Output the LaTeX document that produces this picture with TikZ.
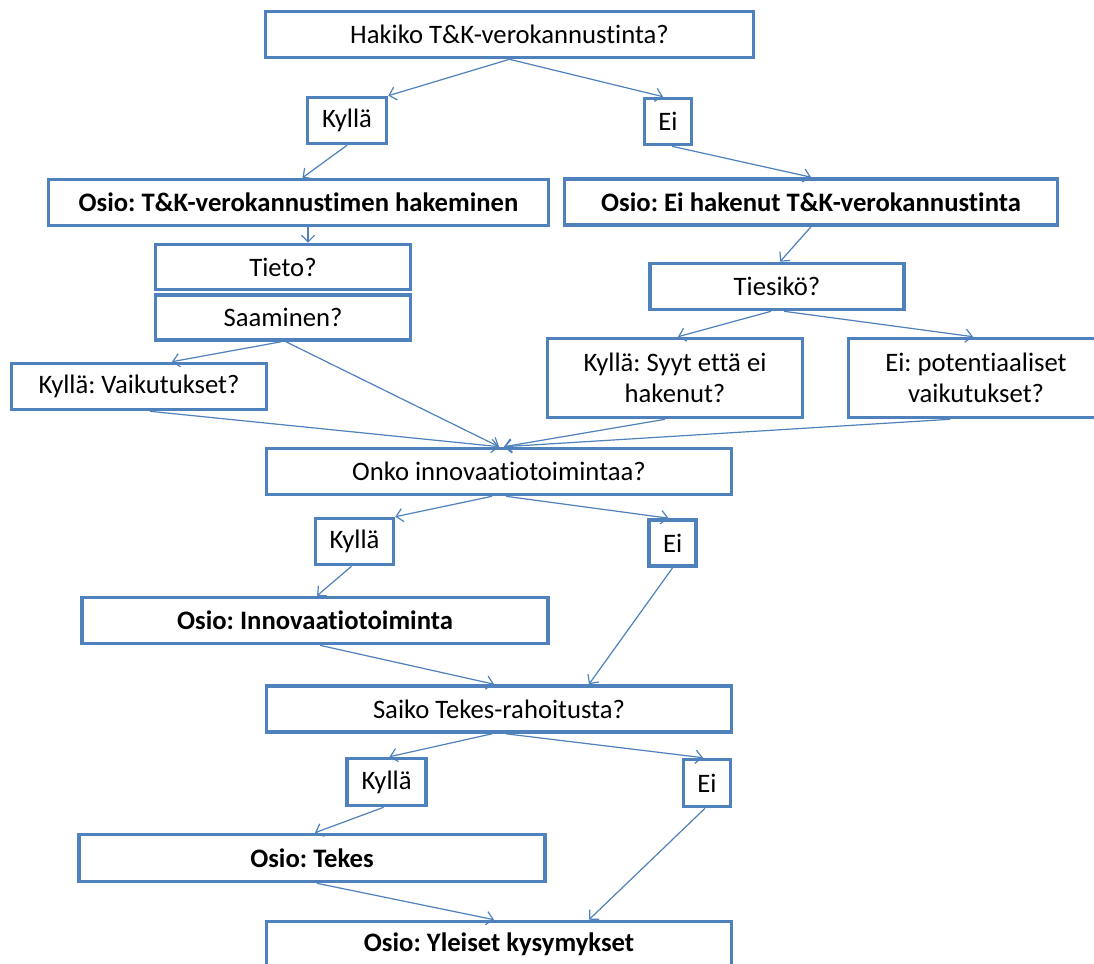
\documentclass[tikz,border=0pt]{standalone}
\usepackage{fontspec}
\setmainfont[Ligatures=NoCommon]{Carlito}
\usetikzlibrary{arrows.meta,calc}
\definecolor{obl}{HTML}{4F81BD}
\frenchspacing
\tikzset{
  box/.style={draw=obl, line width=2.7pt, fill=white, inner sep=0pt, align=center,
    font=\fontsize{20}{23.3}\selectfont, text=black},
  boldbox/.style={box, font=\fontsize{20}{23.3}\selectfont\bfseries},
  arr/.style={draw=obl, line width=0.9pt, -{Straight Barb[length=5pt,width=10pt,line width=0.9pt]}},
  dim/.style n args={2}{minimum width=#1*0.75pt, minimum height=#2*0.75pt}
}
\begin{document}
\begin{tikzpicture}[x=0.75pt,y=-0.75pt]
\useasboundingbox (0,0) rectangle (1094,963);
\fill[white] (0,0) rectangle (1094,963);
\clip (0,0) rectangle (1094,963);
\node[box, dim={488}{46}] (hak) at (509.5,34.5) {Hakiko T\&K-verokannustinta?};
\node[box, dim={79}{46}] (k1) at (347,120.5) {Kyllä};
\node[box, dim={47}{46}] (e1) at (668,121.5) {Ei};
\node[boldbox, dim={500}{46}] (osA) at (298.5,202.5) {Osio: T\&K-verokannustimen hakeminen};
\node[boldbox, dim={493}{46}] (osB) at (811,202) {Osio: Ei hakenut T\&K-verokannustinta};
\node[box, dim={255}{45}] (tieto) at (283,267) {Tieto?};
\node[box, dim={255}{45}] (saam) at (283,317.5) {Saaminen?};
\node[box, dim={255}{46}] (kv) at (139,386.5) {Kyllä: Vaikutukset?};
\node[box, dim={254}{46}] (ties) at (777,286.5) {Tiesikö?};
\node[box, dim={255}{79}] (ks) at (675,378) {Kyllä: Syyt että ei\\hakenut?};
\node[box, dim={255}{79}] (ep) at (976,378) {Ei: potentiaaliset\\vaikutukset?};
\node[box, dim={465}{46}] (onko) at (499,471.5) {Onko innovaatiotoimintaa?};
\node[box, dim={78}{46}] (k2) at (354.5,541.5) {Kyllä};
\node[box, dim={47}{46}] (e2) at (672.6,543) {Ei};
\node[boldbox, dim={466}{46}] (osI) at (315,620.5) {Osio: Innovaatiotoiminta};
\node[box, dim={465}{46}] (saiko) at (499,709) {Saiko Tekes-rahoitusta?};
\node[box, dim={79}{47}] (k3) at (386.6,782) {Kyllä};
\node[box, dim={47}{47}] (e3) at (707,783) {Ei};
\node[boldbox, dim={466}{47}] (osT) at (312,858) {Osio: Tekes};
\node[boldbox, dim={465}{46}] (yl) at (499,944.5) {Osio: Yleiset kysymykset};
% connectors
\draw[arr] (hak.south) -- (k1.north east);
\draw[arr] (hak.south) -- ($(e1.north)+(-5,0)$);
\draw[arr] (k1.south) -- ($(osA.north)+(4,0)$);
\draw[arr] ($(e1.south)+(4,0)$) -- (osB.north);
\coordinate (t1) at ($(tieto.north)+(25,0)$);
\draw[arr] (t1 |- osA.south) -- (t1);
\draw[arr] (osB.south) -- ($(ties.north)+(3,0)$);
\draw[arr] ($(saam.south)+(-2,0)$) -- ($(kv.north)+(33,0)$);
\draw[arr] ($(saam.south)+(3,0)$) -- (onko.north);
\draw[arr] ($(kv.south)+(11,0)$) -- (onko.north);
\draw[arr] ($(ties.south)+(-6,0)$) -- ($(ks.north)+(3,0)$);
\draw[arr] ($(ties.south)+(7,0)$) -- ($(ep.north)+(-3,0)$);
\draw[arr] ($(ks.south)+(-10,0)$) -- ($(onko.north)+(5,0)$);
\draw[arr] ($(ep.south)+(-26,0)$) -- ($(onko.north)+(5,0)$);
\draw[arr] ($(onko.south)+(-7,0)$) -- (k2.north east);
\draw[arr] ($(onko.south)+(7,0)$) -- ($(e2.north)+(-4,0)$);
\draw[arr] ($(k2.south)+(-3,0)$) -- ($(osI.north)+(2,0)$);
\draw[arr] ($(osI.south)+(5,0)$) -- ($(saiko.north)+(-5,0)$);
\draw[arr] (e2.south) -- ($(saiko.north)+(90,0)$);
\draw[arr] ($(saiko.south)+(-7,0)$) -- ($(k3.north)+(3,0)$);
\draw[arr] ($(saiko.south)+(7,0)$) -- ($(e3.north)+(-4,0)$);
\draw[arr] ($(k3.south)+(-3,0)$) -- ($(osT.north)+(3,0)$);
\draw[arr] ($(osT.south)+(5,0)$) -- ($(yl.north)+(-5,0)$);
\draw[arr] ($(e3.south)+(-2,0)$) -- ($(yl.north)+(90,0)$);
\end{tikzpicture}
\end{document}
